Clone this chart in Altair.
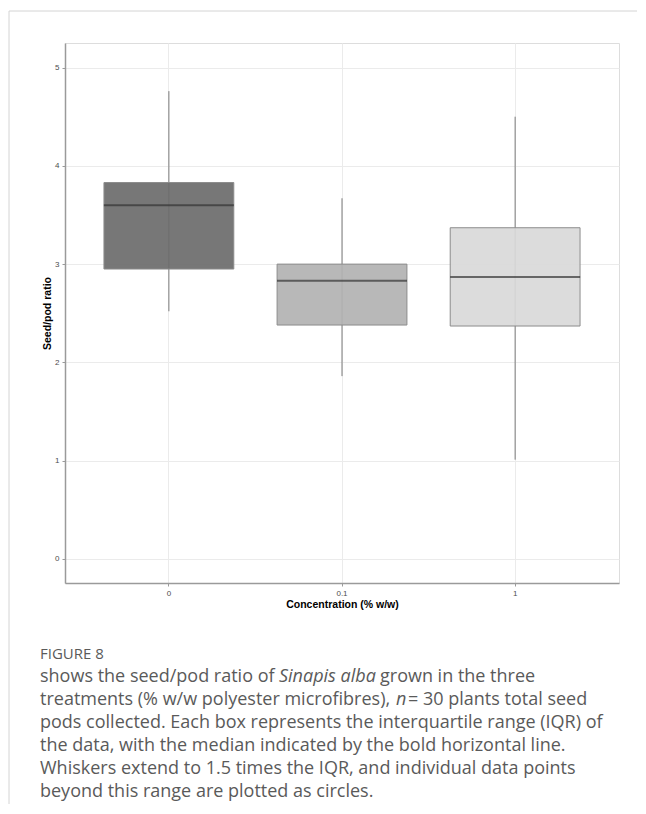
import altair as alt
import pandas as pd

# ---- data ----
concentrations = ["0", "0.1", "1"]
whisker_low = [2.52, 1.86, 1.01]
q1 = [2.95, 2.38, 2.37]
median = [3.60, 2.83, 2.87]
q3 = [3.83, 3.00, 3.37]
whisker_high = [4.76, 3.67, 4.50]
box_colors = ["#6b6b6b", "#b2b2b2", "#d9d9d9"]

y_ticks = [0, 1, 2, 3, 4, 5]

caption_title = "FIGURE 8"
caption_lines = [
    [("shows the seed/pod ratio of ", "normal"), ("Sinapis alba", "italic"), (" grown in the three", "normal")],
    [("treatments (% w/w polyester microfibres), ", "normal"), ("n", "italic"), (" = 30 plants total seed", "normal")],
    [("pods collected. Each box represents the interquartile range (IQR) of", "normal")],
    [("the data, with the median indicated by the bold horizontal line.", "normal")],
    [("Whiskers extend to 1.5 times the IQR, and individual data points", "normal")],
    [("beyond this range are plotted as circles.", "normal")],
]

df = pd.DataFrame({
    "conc": concentrations,
    "lo": whisker_low,
    "q1": q1,
    "med": median,
    "q3": q3,
    "hi": whisker_high,
})

W, H = 554, 540
OX, OY = 65, 43  # page position of plot origin

xscale = alt.Scale(domain=concentrations, paddingInner=0.25, paddingOuter=0.225)
yscale = alt.Scale(domain=[-0.245, 5.25], nice=False, zero=False)

x_enc = alt.X("conc:N", scale=xscale, sort=concentrations,
              axis=alt.Axis(title="Concentration (% w/w)", labelAngle=0, bandPosition=0.5,
                            grid=True, gridColor="#ebebeb", gridWidth=1,
                            domainColor="#9a9a9a", domainWidth=1.5,
                            tickColor="#9a9a9a", tickSize=3,
                            labelFontSize=8, labelColor="#4d4d4d", labelPadding=3,
                            titleFontSize=10.5, titleFontWeight="bold", titleColor="#000000",
                            titlePadding=2, labelFont="Liberation Sans", titleFont="Liberation Sans"))
y_axis = alt.Axis(title="Seed/pod ratio", values=y_ticks, format="d",
                  grid=True, gridColor="#ebebeb", gridWidth=1,
                  domainColor="#9a9a9a", domainWidth=1.5,
                  tickColor="#9a9a9a", tickSize=3,
                  labelFontSize=8, labelColor="#4d4d4d", labelPadding=3,
                  titleFontSize=10.5, titleFontWeight="bold", titleColor="#000000",
                  titlePadding=2, labelFont="Liberation Sans", titleFont="Liberation Sans")

base = alt.Chart(df)

whiskers = base.mark_rule(color="#7a7a7a", strokeWidth=1).encode(
    x=x_enc,
    y=alt.Y("lo:Q", scale=yscale, axis=y_axis),
    y2="hi:Q",
)

boxes = base.mark_bar(stroke="#8c8c8c", strokeWidth=1, fillOpacity=0.92).encode(
    x=alt.X("conc:N", scale=xscale, sort=concentrations),
    y=alt.Y("q1:Q", scale=yscale),
    y2="q3:Q",
    fill=alt.Fill("conc:N", scale=alt.Scale(domain=concentrations, range=box_colors), legend=None),
)

medians = base.mark_tick(color="#333333", thickness=2, size=130).encode(
    x=alt.X("conc:N", scale=xscale, sort=concentrations),
    y=alt.Y("med:Q", scale=yscale),
)

layers = [whiskers, boxes, medians]

# card border (top and left)
border_color = "#d4d4d4"
layers.append(alt.Chart(pd.DataFrame({"a": [0]})).mark_rule(color=border_color, strokeWidth=1).encode(
    x=alt.value(9 - OX), x2=alt.value(646 - OX), y=alt.value(11 - OY)))
layers.append(alt.Chart(pd.DataFrame({"a": [0]})).mark_rule(color=border_color, strokeWidth=1).encode(
    x=alt.value(9 - OX), y=alt.value(11 - OY), y2=alt.value(814 - OY)))

# caption
cap_font = "Open Sans"
cap_color = "#5a5a5a"
layers.append(alt.Chart(pd.DataFrame({"t": [caption_title]})).mark_text(
    align="left", baseline="middle", font=cap_font, fontSize=15, color=cap_color, fontWeight=500
).encode(text="t:N", x=alt.value(40 - OX), y=alt.value(654 - OY)))

# x starting positions of segments (page px)
seg_x = [
    [40, 279, 380],
    [40, 396, 408],
    [40], [40], [40], [40],
]
line_y0 = 677
line_dy = 23.0
for i, segs in enumerate(caption_lines):
    for j, (txt, style) in enumerate(segs):
        layers.append(alt.Chart(pd.DataFrame({"t": [txt]})).mark_text(
            align="left", baseline="middle", font=cap_font, fontSize=18, color=cap_color,
            fontStyle=style
        ).encode(text="t:N", x=alt.value(seg_x[i][j] - OX), y=alt.value(line_y0 + i * line_dy - OY)))

chart = alt.layer(*layers).properties(
    width=W, height=H,
    autosize=alt.AutoSizeParams(type="none"),
    padding={"left": OX - 8, "top": OY - 8, "right": 18, "bottom": 221},
).configure_view(stroke=None).configure(background="white")

chart.save("out.html", embed_options={"renderer": "svg", "actions": False})
